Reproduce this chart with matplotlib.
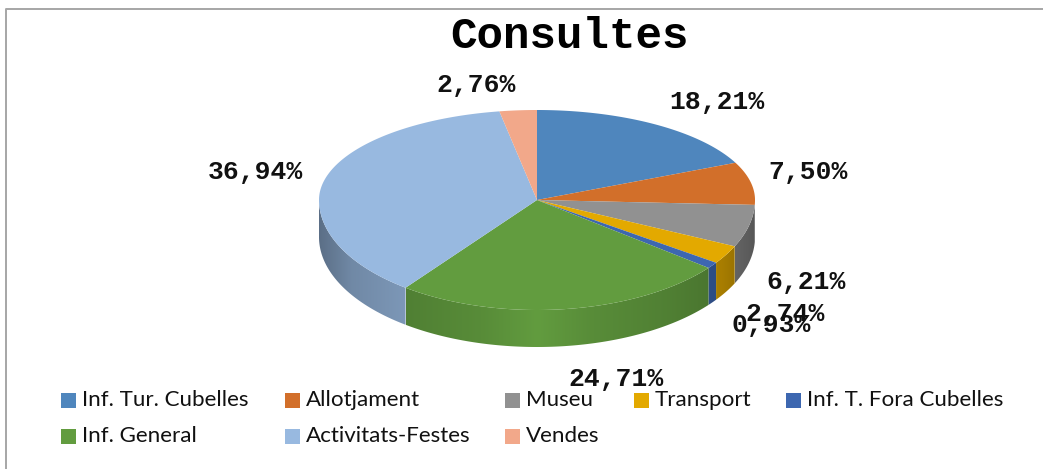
import numpy as np
import matplotlib
matplotlib.use("Agg")
import matplotlib.pyplot as plt
from matplotlib.patches import Rectangle, Polygon

labels = ["Inf. Tur. Cubelles", "Allotjament", "Museu", "Transport",
          "Inf. T. Fora Cubelles", "Inf. General", "Activitats-Festes", "Vendes"]
values = [18.21, 7.50, 6.21, 2.74, 0.93, 24.71, 36.94, 2.76]
value_labels = ["18,21%", "7,50%", "6,21%", "2,74%", "0,93%", "24,71%", "36,94%", "2,76%"]
colors = ["#4f86bd", "#d26f2a", "#919191", "#e3a900", "#3d67b0", "#629c3f", "#98b9e0", "#f2a88a"]

# label anchors, pixels
label_pos = [(717, 102), (808, 172), (806, 282), (785, 314), (771, 325), (616, 379), (255, 172), (476, 85)]
legend_pos = [(61, 400.5), (285, 400.5), (505, 400.5), (634, 400.5), (786, 400.5),
              (61, 436.5), (285, 436.5), (505, 436.5)]

cx, cy = 537, 200
rx, ry_up, ry_down = 218, 90, 110
depth = 37


def rim(a):
    # a is clockwise from 12 o'clock, the front half of the ellipse is deeper
    a = np.radians(a)
    s = np.cos(a)
    return cx + rx * np.sin(a), cy - np.where(s > 0, ry_up, ry_down) * s


fig = plt.figure(figsize=(10.43, 4.69), dpi=100)
ax = fig.add_axes([0, 0, 1, 1])
ax.axis("off")

# frame, only left and top are visible
ax.plot([6, 6, 1043], [469, 9.5, 9.5], color="#a6a6a6", lw=1.4, zorder=0)

edges = np.concatenate([[0], np.cumsum(values)]) * 3.6

# side wall, front half only, darker towards the ends
for i, col in enumerate(colors):
    a0, a1 = max(edges[i], 90), min(edges[i + 1], 270)
    if a1 <= a0:
        continue
    t = np.linspace(a0, a1, 200)
    x, y = rim(t)
    px = np.r_[x, x[::-1]]
    py = np.r_[y, y[::-1] + depth]
    x0, x1 = px.min(), px.max()
    cols = np.linspace(x0, x1, max(int(x1 - x0), 2))
    shade = np.interp(np.abs(cols - cx) / rx, [0, 0.1, 0.25, 0.6, 0.85, 1], [1.0, 0.96, 0.9, 0.82, 0.74, 0.6])
    img = np.clip(shade[None, :, None] * np.array(matplotlib.colors.to_rgb(col)), 0, 1)
    im = ax.imshow(img, extent=(x0, x1, py.max(), py.min()), aspect="auto", zorder=2, interpolation="bilinear")
    im.set_clip_path(Polygon(np.c_[px, py], transform=ax.transData))

# top face
for i, col in enumerate(colors):
    t = np.linspace(edges[i], edges[i + 1], 200)
    x, y = rim(t)
    ax.fill(np.r_[cx, x], np.r_[cy, y], color=col, lw=0, zorder=3)

ax.set_xlim(0, 1043)
ax.set_ylim(469, 0)

ax.text(570, 36, "Consultes", family="Liberation Mono", weight="bold", fontsize=31.8,
        ha="center", va="center", color="#000000", zorder=5)

for txt, (x, y) in zip(value_labels, label_pos):
    ax.text(x, y, txt, family="Liberation Mono", weight="bold", fontsize=19,
            ha="center", va="center", color="#111111", zorder=5)

for name, col, (x, y) in zip(labels, colors, legend_pos):
    ax.add_patch(Rectangle((x, y - 7.5), 15, 15, color=col, lw=0, zorder=4))
    ax.text(x + 21, y - 1, name, family="Lato", fontsize=16.1,
            ha="left", va="center", color="#111111", zorder=5)

fig.savefig("out.png", dpi=100)
